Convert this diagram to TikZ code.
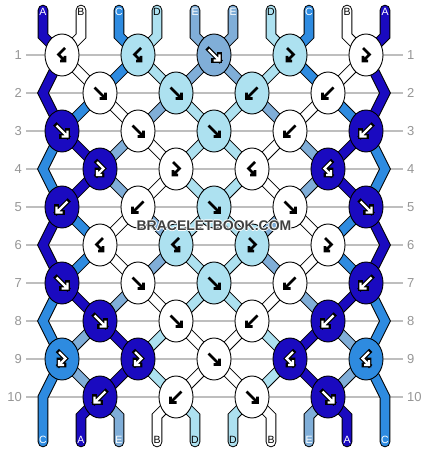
\documentclass[tikz,border=0pt]{standalone}
\usepackage{fontspec}
\setmainfont{Liberation Sans}
\usetikzlibrary{shapes.geometric}
\definecolor{cA}{RGB}{26,10,192}
\definecolor{cB}{RGB}{255,255,255}
\definecolor{cC}{RGB}{46,139,224}
\definecolor{cD}{RGB}{173,225,240}
\definecolor{cE}{RGB}{128,174,216}
\definecolor{rowgray}{RGB}{150,150,150}
\definecolor{linegray}{RGB}{190,190,190}
\definecolor{wmgray}{RGB}{64,64,64}
\newcommand\strand[2]{\draw[strout] #2; \draw[strin,draw=#1] #2;}
\newcommand\haloed[1]{\leavevmode
  \rlap{\kern-1pt\textcolor{white}{#1}}%
  \rlap{\kern1pt\textcolor{white}{#1}}%
  \rlap{\raisebox{1pt}{\textcolor{white}{#1}}}%
  \rlap{\raisebox{-1pt}{\textcolor{white}{#1}}}%
  \textcolor{wmgray}{#1}}
\begin{document}
\begin{tikzpicture}[x=1pt,y=-1pt,
  knot/.style={ellipse,draw=black,line width=0.9pt,minimum width=34pt,minimum height=42pt,inner sep=0pt},
  rowlbl/.style={font=\fontsize{13}{13}\selectfont,text=rowgray,inner sep=0pt},
  strlbl/.style={font=\fontsize{10.5}{10.5}\selectfont,inner sep=0pt},
  gridline/.style={draw=linegray,line width=1.2pt},
  strout/.style={draw=black,line width=10.6pt,line cap=round},
  strin/.style={line width=8.6pt,line cap=round},
  arb/.style={draw=black,line width=2.6pt,line cap=butt},
  aro/.style={draw=black,line width=4.6pt,line cap=rect},
  arw/.style={draw=white,line width=2.2pt,line cap=butt},
  arF/.pic={\path[pic actions] (-5.5,-5.5) -- (5.5,5.5) (5.5,-0.5) -- (5.5,5.5) -- (-0.5,5.5);},
  arB/.pic={\path[pic actions] (5.5,-5.5) -- (-5.5,5.5) (-5.5,-0.5) -- (-5.5,5.5) -- (0.5,5.5);},
  arFB/.pic={\path[pic actions] (-3,-7) -- (3.5,-0.5) -- (-3,6) (-3,1) -- (-3,6) -- (2,6);},
  arBF/.pic={\path[pic actions] (3,-7) -- (-3.5,-0.5) -- (3,6) (3,1) -- (3,6) -- (-2,6);}
]
\fill[white] (0,0) rectangle (430,452);
\path[use as bounding box] (0,0) rectangle (430,452);

% coordinates
\foreach \p in {1,...,10}{
  \coordinate (t\p a) at ({43+38*(\p-1)},10);
  \coordinate (t\p b) at ({43+38*(\p-1)},36);
  \coordinate (b\p a) at ({43+38*(\p-1)},416);
  \coordinate (b\p b) at ({43+38*(\p-1)},442);
}
\foreach \r in {1,3,...,9}{
  \foreach \i in {1,...,5}{
    \coordinate (k\r-\i) at ({62+76*(\i-1)},{55+38*(\r-1)});
  }
}
\foreach \r in {2,4,...,10}{
  \foreach \i in {1,...,4}{
    \coordinate (k\r-\i) at ({100+76*(\i-1)},{55+38*(\r-1)});
  }
  \coordinate (L\r) at (43,{55+38*(\r-1)});
  \coordinate (R\r) at (385,{55+38*(\r-1)});
}

% grid lines and row labels
\foreach \r in {1,...,10}{
  \coordinate (gl\r) at (26,{55+38*(\r-1)});
  \coordinate (gr\r) at (403,{55+38*(\r-1)});
  \draw[gridline] (gl\r) -- (gr\r);
  \node[rowlbl,anchor=east] (ll\r) at (22,{55+38*(\r-1)}) {\r};
  \node[rowlbl,anchor=west] (rl\r) at (407,{55+38*(\r-1)}) {\r};
}

% strings
\strand{cA}{(t1a)--(t1b)--(k1-1)--(L2)--(k3-1)--(k4-1)--(k5-1)--(L6)--(k7-1)--(k8-1)--(k9-2)--(k10-1)--(b2a)--(b2b)}
\strand{cB}{(t2a)--(t2b)--(k1-1)--(k2-1)--(k3-2)--(k4-2)--(k5-2)--(k6-1)--(k7-2)--(k8-2)--(k9-3)--(k10-3)--(b7a)--(b7b)}
\strand{cC}{(t3a)--(t3b)--(k1-2)--(k2-1)--(k3-1)--(L4)--(k5-1)--(k6-1)--(k7-1)--(L8)--(k9-1)--(L10)--(b1a)--(b1b)}
\strand{cD}{(t4a)--(t4b)--(k1-2)--(k2-2)--(k3-3)--(k4-3)--(k5-3)--(k6-2)--(k7-3)--(k8-3)--(k9-4)--(k10-3)--(b6a)--(b6b)}
\strand{cE}{(t5a)--(t5b)--(k1-3)--(k2-3)--(k3-4)--(k4-4)--(k5-4)--(k6-3)--(k7-4)--(k8-4)--(k9-5)--(k10-4)--(b8a)--(b8b)}
\strand{cE}{(t6a)--(t6b)--(k1-3)--(k2-2)--(k3-2)--(k4-1)--(k5-2)--(k6-2)--(k7-2)--(k8-1)--(k9-1)--(k10-1)--(b3a)--(b3b)}
\strand{cD}{(t7a)--(t7b)--(k1-4)--(k2-3)--(k3-3)--(k4-2)--(k5-3)--(k6-3)--(k7-3)--(k8-2)--(k9-2)--(k10-2)--(b5a)--(b5b)}
\strand{cC}{(t8a)--(t8b)--(k1-4)--(k2-4)--(k3-5)--(R4)--(k5-5)--(k6-4)--(k7-5)--(R8)--(k9-5)--(R10)--(b10a)--(b10b)}
\strand{cB}{(t9a)--(t9b)--(k1-5)--(k2-4)--(k3-4)--(k4-3)--(k5-4)--(k6-4)--(k7-4)--(k8-3)--(k9-3)--(k10-2)--(b4a)--(b4b)}
\strand{cA}{(t10a)--(t10b)--(k1-5)--(R2)--(k3-5)--(k4-4)--(k5-5)--(R6)--(k7-5)--(k8-4)--(k9-4)--(k10-4)--(b9a)--(b9b)}

% string labels
\foreach \p/\l/\c in {1/A/white,2/B/black,3/C/white,4/D/black,5/E/white,6/E/white,7/D/black,8/C/white,9/B/black,10/A/white}{
  \node[strlbl,text=\c] (tl\p) at ({43+38*(\p-1)},12) {\l};
}
\foreach \p/\l/\c in {1/C/white,2/A/white,3/E/white,4/B/black,5/D/black,6/D/black,7/B/black,8/E/white,9/A/white,10/C/white}{
  \node[strlbl,text=\c] (bl\p) at ({43+38*(\p-1)},440) {\l};
}

% knots
\foreach \r/\i/\c/\t/\w in {
 1/1/cB/BF/0, 1/2/cD/BF/0, 1/3/cE/F/1, 1/4/cD/FB/0, 1/5/cB/FB/0,
 2/1/cB/F/0, 2/2/cD/F/0, 2/3/cD/B/0, 2/4/cB/B/0,
 3/1/cA/F/1, 3/2/cB/F/0, 3/3/cD/F/0, 3/4/cB/B/0, 3/5/cA/B/1,
 4/1/cA/FB/1, 4/2/cB/FB/0, 4/3/cB/BF/0, 4/4/cA/BF/1,
 5/1/cA/B/1, 5/2/cB/B/0, 5/3/cD/F/0, 5/4/cB/F/0, 5/5/cA/F/1,
 6/1/cB/BF/0, 6/2/cD/BF/0, 6/3/cD/FB/0, 6/4/cB/FB/0,
 7/1/cA/F/1, 7/2/cB/F/0, 7/3/cD/F/0, 7/4/cB/B/0, 7/5/cA/B/1,
 8/1/cA/F/1, 8/2/cB/F/0, 8/3/cB/B/0, 8/4/cA/B/1,
 9/1/cC/FB/1, 9/2/cA/FB/1, 9/3/cB/F/0, 9/4/cA/BF/1, 9/5/cC/BF/1,
 10/1/cA/B/1, 10/2/cB/B/0, 10/3/cB/F/0, 10/4/cA/F/1}{
  \node[knot,fill=\c] (n\r-\i) at (k\r-\i) {};
  \ifnum\w=1
    \pic[aro] at (k\r-\i) {ar\t};
    \pic[arw] at (k\r-\i) {ar\t};
  \else
    \pic[arb] at (k\r-\i) {ar\t};
  \fi
}

% watermark
\node[font=\bfseries\fontsize{14}{14}\selectfont,inner sep=0pt] (wm) at (214,226) {\haloed{BRACELETBOOK.COM}};
\end{tikzpicture}
\end{document}
